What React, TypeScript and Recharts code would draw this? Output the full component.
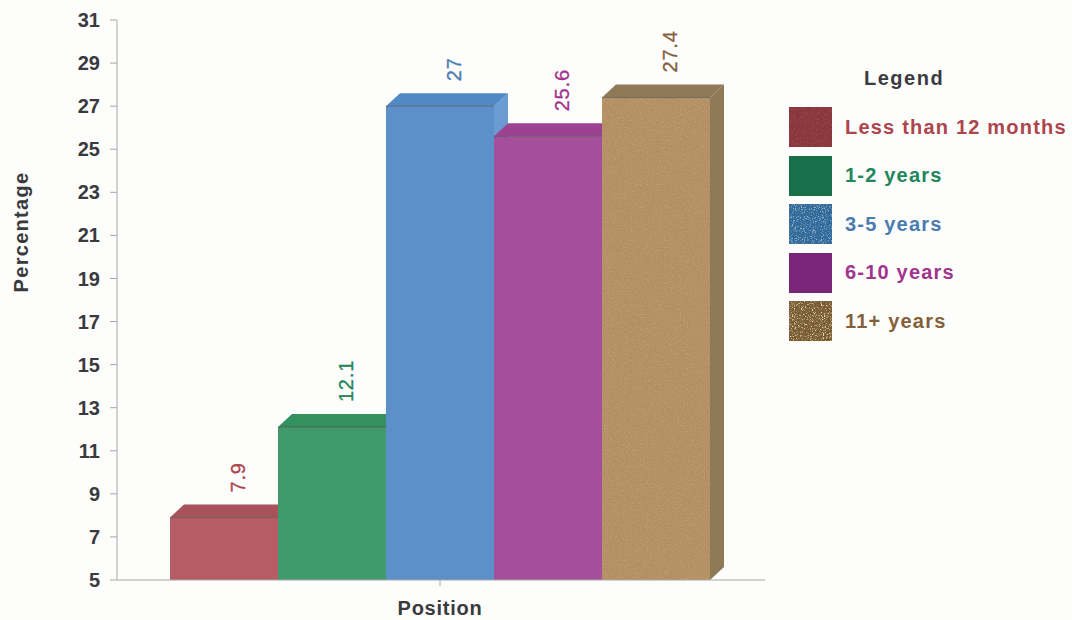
import React from 'react';
import { BarChart, Bar, XAxis, YAxis, Legend, LabelList, Label } from 'recharts';

const category = 'Position';
const seriesNames = ['Less than 12 months', '1-2 years', '3-5 years', '6-10 years', '11+ years'];
const seriesValues = [7.9, 12.1, 27, 25.6, 27.4];
const yTicks = [5, 7, 9, 11, 13, 15, 17, 19, 21, 23, 25, 27, 29, 31];

const frontColors = ['#b65c64', '#3f9a6c', '#5c90ca', '#a54f9c', '#b38f63'];
const topColors = ['#a8525b', '#33915f', '#5189c5', '#9b4392', '#8f7a58'];
const sideColors = ['#a8525b', '#33915f', '#6a9bd2', '#9b4392', '#8f7a58'];
const textColors = ['#ad454d', '#21875a', '#4a7cb0', '#a1348d', '#84603a'];
const swatchColors = ['#8a363d', '#17704a', '#2f6a9d', '#7a2678', '#7a5c32'];
const swatchSpeckle = [0.12, 0, 0.6, 0, 0.9];
const barGrain = [0, 0, 0, 0, 0.14];

const row: Record<string, string | number> = { name: category };
seriesNames.forEach((n, i) => {
  row[n] = seriesValues[i];
});
const data = [row];

const DEPTH_X = 14;
const DEPTH_Y = 13;
const FONT = '"Liberation Sans", Arial, sans-serif';
const axisText = { fill: '#3a3a3e', fontFamily: FONT, fontSize: 20, fontWeight: 700 };

// Extruded bar: front face, top face and right side
const Box3D = (color: number) => (props: any) => {
  const { x, y, width, height } = props;
  return (
    <g>
      <polygon
        points={`${x + width},${y} ${x + width + DEPTH_X},${y - DEPTH_Y} ${x + width + DEPTH_X},${y + height - DEPTH_Y} ${x + width},${y + height}`}
        fill={sideColors[color]}
      />
      <polygon
        points={`${x},${y} ${x + DEPTH_X},${y - DEPTH_Y} ${x + width + DEPTH_X},${y - DEPTH_Y} ${x + width},${y}`}
        fill={topColors[color]}
      />
      <rect x={x} y={y} width={width} height={height} fill={frontColors[color]} />
      {barGrain[color] > 0 && (
        <rect x={x} y={y} width={width} height={height} filter="url(#bar-grain)" opacity={barGrain[color]} />
      )}
      <line x1={x} y1={y} x2={x + width} y2={y} stroke="#55504c" strokeWidth={1} strokeOpacity={0.7} />
    </g>
  );
};

const ValueLabel = (color: number) => (props: any) => {
  const { x, y, width, value } = props;
  const cx = x + width / 2 + DEPTH_X;
  const cy = y - DEPTH_Y - 12;
  return (
    <text
      x={cx}
      y={cy}
      transform={`rotate(-90 ${cx} ${cy})`}
      dy="0.35em"
      textAnchor="start"
      fill={textColors[color]}
      stroke={textColors[color]}
      strokeWidth={0.3}
      fontFamily={FONT}
      fontSize={20}
      letterSpacing={0.8}
    >
      {value}
    </text>
  );
};

const Swatch = ({ index }: { index: number }) => (
  <svg width={43} height={40} style={{ display: 'block' }}>
    <defs>
      <filter id={`grain-${index}`} x="0" y="0" width="100%" height="100%">
        <feTurbulence type="fractalNoise" baseFrequency="0.9" numOctaves={2} seed={index + 3} />
        <feColorMatrix
          type="matrix"
          values="0 0 0 0 0.95  0 0 0 0 0.85  0 0 0 0 0.7  3 3 0 0 -3.1"
        />
      </filter>
    </defs>
    <rect width={43} height={40} fill={swatchColors[index]} />
    {swatchSpeckle[index] > 0 && (
      <rect width={43} height={40} filter={`url(#grain-${index})`} opacity={swatchSpeckle[index]} />
    )}
  </svg>
);

const LegendBox = () => (
  <div style={{ fontFamily: FONT, fontWeight: 700 }}>
    <div style={{ position: 'absolute', left: 75, top: 0, fontSize: 20, color: '#3b3a40', letterSpacing: 1.5, lineHeight: '20px' }}>
      Legend
    </div>
    {seriesNames.map((n, i) => (
      <div key={n} style={{ position: 'absolute', left: 0, top: 39 + i * 48.5, display: 'flex', alignItems: 'center' }}>
        <Swatch index={i} />
        <span style={{ marginLeft: 13, fontSize: 20, letterSpacing: 1.2, color: textColors[i], whiteSpace: 'nowrap' }}>{n}</span>
      </div>
    ))}
  </div>
);

export default function App() {
  return (
    <div style={{ position: 'fixed', left: 0, top: 0, width: 1072, height: 620, background: '#fdfdfc' }}>
      <BarChart
        width={1072}
        height={620}
        data={data}
        margin={{ top: 20, right: 307, bottom: 0, left: 32 }}
        barCategoryGap={53}
        barGap={0}
      >
        <defs>
          <filter id="bar-grain" x="0" y="0" width="100%" height="100%">
            <feTurbulence type="fractalNoise" baseFrequency="0.7" numOctaves={2} seed={8} />
            <feColorMatrix
              type="matrix"
              values="0 0 0 0 0.95  0 0 0 0 0.85  0 0 0 0 0.7  3 3 0 0 -3"
            />
          </filter>
        </defs>
        <XAxis
          dataKey="name"
          height={40}
          padding={{ left: 0, right: 2 }}
          axisLine={{ stroke: '#a8a8a8' }}
          tickLine={{ stroke: '#a8a8a8' }}
          tickSize={6}
          tickMargin={15}
          tick={{ ...axisText, letterSpacing: 0.75 }}
        />
        <YAxis
          type="number"
          domain={[5, 31]}
          ticks={yTicks}
          interval={0}
          width={85}
          axisLine={{ stroke: '#a8a8a8' }}
          tickLine={{ stroke: '#a8a8a8' }}
          tickSize={7}
          tickMargin={10}
          tick={axisText}
        >
          <Label
            value="Percentage"
            angle={-90}
            position="insideLeft"
            offset={-11}
            style={{ ...axisText, letterSpacing: 1.3, textAnchor: 'middle' }}
            dy={-68}
          />
        </YAxis>
        <Legend
          content={<LegendBox />}
          wrapperStyle={{ position: 'absolute', left: 789, top: 68, width: 283, height: 0 }}
        />
        {seriesNames.map((n, i) => (
          <Bar key={n} dataKey={n} shape={Box3D(i)} isAnimationActive={false}>
            <LabelList dataKey={n} content={ValueLabel(i)} />
          </Bar>
        ))}
      </BarChart>
    </div>
  );
}
